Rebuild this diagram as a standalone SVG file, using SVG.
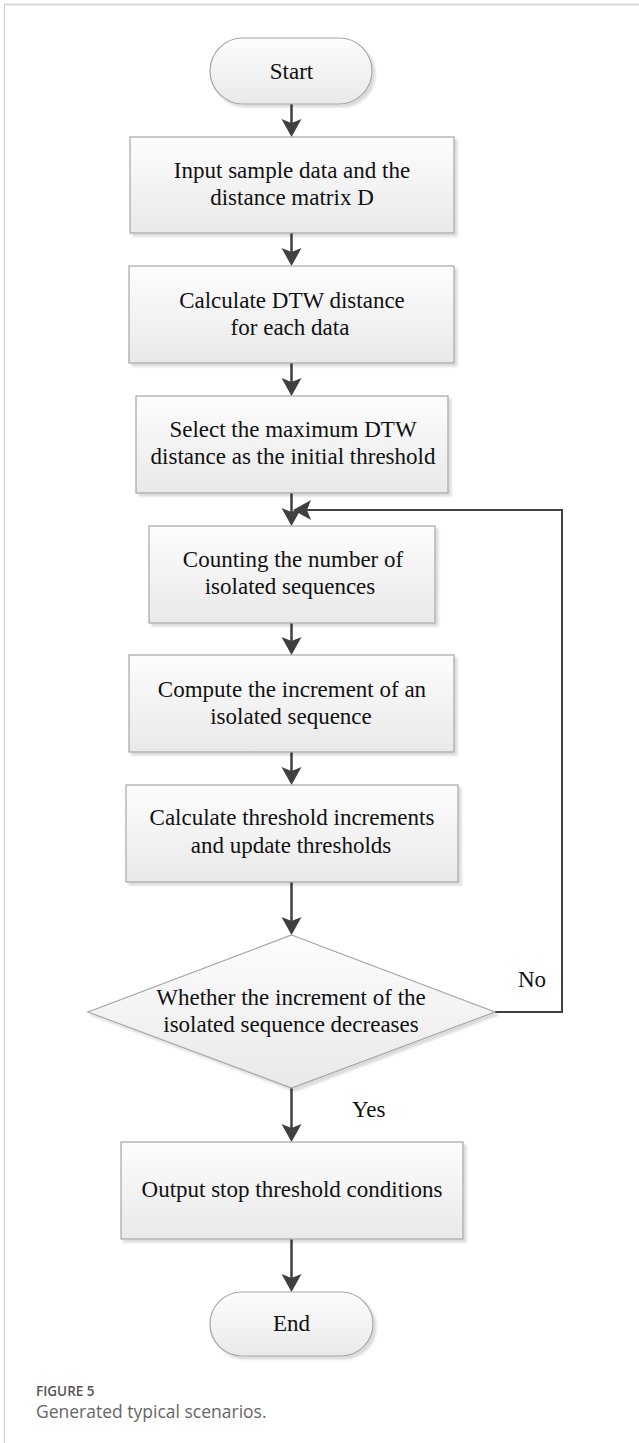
<svg xmlns="http://www.w3.org/2000/svg" width="639" height="1443" viewBox="0 0 639 1443">
<style>
.box{fill:url(#g);stroke:#a6a6a6;stroke-width:1.2;filter:url(#sh)}
.t{font-family:"Liberation Serif","Times New Roman",serif;font-size:23px;fill:#111;text-anchor:middle}
.lbl{font-family:"Liberation Serif","Times New Roman",serif;font-size:23px;fill:#111}
.ln{stroke:#404040;stroke-width:2.5;fill:none}
.lp{stroke:#404040;stroke-width:2;fill:none}
.ah{fill:#404040}
</style>
<defs>
<linearGradient id="g" x1="0" y1="0" x2="0" y2="1">
<stop offset="0" stop-color="#fdfdfd"/>
<stop offset="1" stop-color="#e9e9e9"/>
</linearGradient>
<filter id="sh" x="-10%" y="-10%" width="130%" height="130%">
<feDropShadow dx="3" dy="3" stdDeviation="1" flood-color="#000" flood-opacity="0.14"/>
</filter>
<path id="arr" d="M0,0 L-10,-18 L0,-14 L10,-18 Z"/>
</defs>
<rect width="639" height="1443" fill="#fff"/>
<g id="frame">
<line x1="4" y1="4.5" x2="639" y2="4.5" stroke="#d9d9d9" stroke-width="2"/>
<line x1="4.5" y1="4" x2="4.5" y2="1443" stroke="#cfcfcf" stroke-width="1"/>
</g>
<g id="connectors">
<line class="ln" x1="291.5" y1="104" x2="291.5" y2="125"/>
<use href="#arr" class="ah" x="291.5" y="137"/>
<line class="ln" x1="291.5" y1="233" x2="291.5" y2="254"/>
<use href="#arr" class="ah" x="291.5" y="266"/>
<line class="ln" x1="291.5" y1="363" x2="291.5" y2="384"/>
<use href="#arr" class="ah" x="291.5" y="396"/>
<line class="ln" x1="291.5" y1="493" x2="291.5" y2="514"/>
<use href="#arr" class="ah" x="291.5" y="526"/>
<line class="ln" x1="291.5" y1="623" x2="291.5" y2="643"/>
<use href="#arr" class="ah" x="291.5" y="655"/>
<line class="ln" x1="291.5" y1="752" x2="291.5" y2="773"/>
<use href="#arr" class="ah" x="291.5" y="785"/>
<line class="ln" x1="291.5" y1="882" x2="291.5" y2="923"/>
<use href="#arr" class="ah" x="291.5" y="935"/>
<line class="ln" x1="291.5" y1="1088" x2="291.5" y2="1130"/>
<use href="#arr" class="ah" x="291.5" y="1142"/>
<line class="ln" x1="291.5" y1="1239" x2="291.5" y2="1280"/>
<use href="#arr" class="ah" x="291.5" y="1292"/>
<polyline class="lp" points="495,1012 562,1012 562,510 305,510"/>
<use href="#arr" class="ah" transform="translate(293,510) rotate(90)"/>
<text class="lbl" x="518" y="987">No</text>
<text class="lbl" x="352" y="1117">Yes</text>
</g>
<g id="start">
<rect class="box" x="210" y="38" width="162" height="66" rx="33"/>
<text class="t" x="291.5" y="79">Start</text>
</g>
<g id="n1">
<rect class="box" x="130" y="137" width="324" height="96"/>
<text class="t" x="292" y="178">Input sample data and the</text>
<text class="t" x="292" y="205">distance matrix D</text>
</g>
<g id="n2">
<rect class="box" x="129" y="266" width="325" height="97"/>
<text class="t" x="292" y="308">Calculate DTW distance</text>
<text class="t" x="290" y="335">for each data</text>
</g>
<g id="n3">
<rect class="box" x="136" y="396" width="312" height="97"/>
<text class="t" x="293" y="437">Select the maximum DTW</text>
<text class="t" x="293" y="464">distance as the initial threshold</text>
</g>
<g id="n4">
<rect class="box" x="149" y="526" width="286" height="97"/>
<text class="t" x="293" y="567">Counting the number of</text>
<text class="t" x="290" y="594">isolated sequences</text>
</g>
<g id="n5">
<rect class="box" x="129" y="655" width="325" height="97"/>
<text class="t" x="292" y="697">Compute the increment of an</text>
<text class="t" x="291" y="724">isolated sequence</text>
</g>
<g id="n6">
<rect class="box" x="126" y="785" width="332" height="97"/>
<text class="t" x="292" y="825">Calculate threshold increments</text>
<text class="t" x="291" y="853">and update thresholds</text>
</g>
<g id="decision">
<polygon class="box" points="291.5,935 495,1012 291.5,1088 88,1012"/>
<text class="t" x="291" y="1005">Whether the increment of the</text>
<text class="t" x="291" y="1032">isolated sequence decreases</text>
</g>
<g id="n7">
<rect class="box" x="121" y="1142" width="342" height="97"/>
<text class="t" x="292" y="1197">Output stop threshold conditions</text>
</g>
<g id="end">
<rect class="box" x="210" y="1292" width="163" height="64" rx="32"/>
<text class="t" x="291.5" y="1331">End</text>
</g>
<g id="caption">
<text x="36" y="1396" font-family="'Open Sans',sans-serif" font-size="13.5" font-weight="600" fill="#555">FIGURE 5</text>
<text x="36" y="1418" font-family="'Open Sans',sans-serif" font-size="17.5" fill="#666">Generated typical scenarios.</text>
</g>
</svg>
